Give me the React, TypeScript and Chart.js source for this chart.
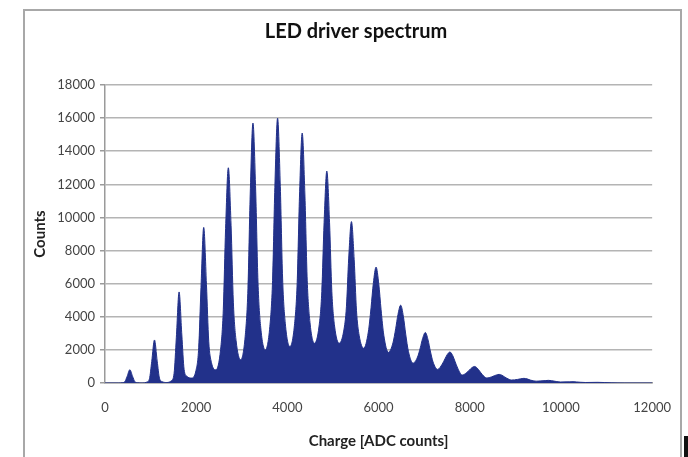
import React, { useEffect, useRef } from 'react';
import { Chart, registerables } from 'chart.js';

Chart.register(...registerables);

const chartTitle = 'LED driver spectrum';
const xAxisTitle = 'Charge [ADC counts]';
const yAxisTitle = 'Counts';

const xMin = 0;
const xMax = 12000;
const xStep = 2000;
const yMin = 0;
const yMax = 18000;
const yStep = 2000;

// Charge (ADC counts) sampled along the spectrum
const chargeValues = [
  0, 300, 375, 435, 485, 545, 605, 655, 715, 815,
  915, 975, 1025, 1085, 1145, 1195, 1255, 1355,
  1455, 1515, 1565, 1625, 1685, 1735, 1795, 1895,
  1995, 2055, 2105, 2165, 2225, 2275, 2335, 2435,
  2535, 2595, 2645, 2705, 2765, 2815, 2875, 2975,
  3075, 3135, 3185, 3245, 3305, 3355, 3415, 3515,
  3615, 3675, 3725, 3785, 3845, 3895, 3955, 4055,
  4155, 4215, 4265, 4325, 4385, 4435, 4495, 4595,
  4695, 4755, 4805, 4865, 4925, 4975, 5035, 5135,
  5235, 5295, 5345, 5405, 5465, 5515, 5575, 5675,
  5775, 5835, 5885, 5945, 6005, 6055, 6115, 6215,
  6315, 6375, 6425, 6485, 6545, 6595, 6655, 6755,
  6855, 6915, 6965, 7025, 7085, 7135, 7195, 7295,
  7395, 7455, 7505, 7565, 7625, 7675, 7735, 7835,
  7935, 7995, 8045, 8105, 8165, 8215, 8275, 8375,
  8475, 8535, 8585, 8645, 8705, 8755, 8815, 8915,
  9045, 9115, 9185, 9255, 9325, 9455,
  9655, 9725, 9795, 9995,
  10195, 10265, 10335, 10535,
  10805, 11100, 11400, 12000,
];

// Counts read at each charge value
const countValues = [
  0, 0, 16, 80, 400, 800, 400, 80, 16, 0,
  52, 260, 1300, 2600, 1315, 287, 81, 30,
  139, 577, 2765, 5500, 2900, 820, 404, 300,
  755, 2120, 5760, 9400, 5960, 2520, 1230, 800,
  2020, 4460, 9340, 13000, 9520, 4880, 2560, 1400,
  2830, 5690, 11410, 15700, 11590, 6110, 3370, 2000,
  3400, 6200, 11800, 16000, 11860, 6340, 3580, 2200,
  3490, 6070, 11230, 15100, 11290, 6210, 3670, 2400,
  3440, 5520, 9680, 12800, 9680, 5520, 3440, 2400,
  3135, 4605, 7545, 9750, 7455, 4395, 2865, 2100,
  3080, 4550, 6020, 7000, 5970, 4425, 2880, 1850,
  2420, 3275, 4130, 4700, 4000, 2950, 1900, 1200,
  1570, 2125, 2680, 3050, 2604, 1935, 1266, 820,
  1135, 1450, 1713, 1870, 1662, 1314, 897, 480,
  636, 792, 922, 1000, 895, 720, 510, 300,
  366, 432, 487, 520, 469, 384, 282, 180,
  215, 250, 280, 250, 180, 110,
  145, 160, 140, 60,
  70, 80, 65, 30,
  40, 10, 0, 0,
];

const fillColor = '#22318a';
const gridColor = '#b4b4b4';
const textColor = '#444444';

export default function App() {
  const canvasRef = useRef<HTMLCanvasElement | null>(null);

  useEffect(() => {
    const canvas = canvasRef.current;
    if (!canvas) return;
    const points = chargeValues.map((x, i) => ({ x, y: countValues[i] }));
    const chart = new Chart(canvas, {
      type: 'line',
      data: {
        datasets: [
          {
            data: points,
            borderColor: fillColor,
            backgroundColor: fillColor,
            borderWidth: 1,
            pointRadius: 0,
            fill: 'origin',
            cubicInterpolationMode: 'monotone',
          },
        ],
      },
      options: {
        responsive: false,
        animation: false,
        devicePixelRatio: 1,
        layout: { padding: { left: 58, right: 34, top: 0, bottom: 0 } },
        plugins: {
          legend: { display: false },
          tooltip: { enabled: false },
          title: {
            display: true,
            text: chartTitle,
            color: '#111111',
            font: { family: 'Lato', size: 20, weight: 'bold' },
            padding: { top: 20, bottom: 41 },
          },
        },
        scales: {
          x: {
            type: 'linear',
            min: xMin,
            max: xMax,
            afterFit: (s: any) => {
              s.height = 74;
            },
            ticks: {
              stepSize: xStep,
              color: textColor,
              font: { family: 'Lato', size: 13 },
              padding: 17,
              maxRotation: 0,
              callback: (v: any) => String(v),
            },
            grid: { display: false, drawTicks: false },
            border: { display: true, color: '#9a9a9a', width: 1.5 },
            title: {
              display: true,
              text: xAxisTitle,
              color: '#222222',
              font: { family: 'Lato', size: 15, weight: 'bold' },
              padding: { top: 0, bottom: 7 },
            },
          },
          y: {
            min: yMin,
            max: yMax,
            afterFit: (s: any) => {
              s.width = 47;
            },
            ticks: {
              stepSize: yStep,
              color: textColor,
              font: { family: 'Lato', size: 13 },
              padding: 5,
              callback: (v: any) => String(v),
            },
            grid: {
              color: gridColor,
              lineWidth: 1.5,
              tickLength: 5,
              tickColor: '#9a9a9a',
            },
            border: { display: true, color: '#9a9a9a', width: 1.5 },
            title: {
              display: true,
              text: yAxisTitle,
              color: '#222222',
              font: { family: 'Lato', size: 15, weight: 'bold' },
              padding: { top: -27, bottom: 0 },
            },
          },
        },
      },
    });
    return () => chart.destroy();
  }, []);

  return (
    <div
      style={{
        position: 'fixed',
        left: 0,
        top: 0,
        width: 688,
        height: 457,
        overflow: 'hidden',
        background: '#ffffff',
      }}
    >
      <div
        style={{
          position: 'absolute',
          left: 23,
          top: 9,
          width: 659,
          height: 520,
          border: '2px solid #a8a8a8',
          boxSizing: 'border-box',
        }}
      />
      <canvas
        ref={canvasRef}
        width={688}
        height={457}
        style={{ position: 'absolute', left: 0, top: 0, width: 688, height: 457 }}
      />
      <div
        style={{
          position: 'absolute',
          left: 684,
          top: 436,
          width: 4,
          height: 21,
          background: '#111111',
        }}
      />
    </div>
  );
}
